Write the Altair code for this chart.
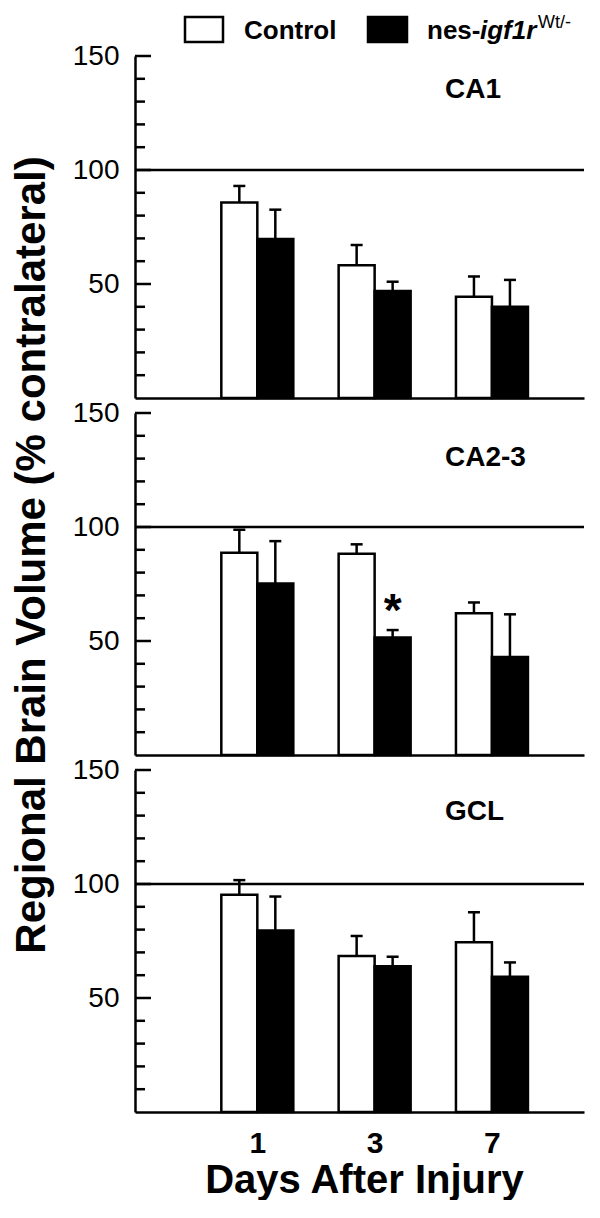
import altair as alt
import pandas as pd

# ---- data ----
regions = ["CA1", "CA2-3", "GCL"]
days = ["1", "3", "7"]
series = ["Control", "nes-igf1r"]
control_mean = [[85.7, 58.2, 44.4], [88.7, 88.3, 62.2], [95.3, 68.4, 74.4]]
control_sem = [[7.3, 8.9, 8.9], [10.1, 4.1, 4.7], [6.4, 8.8, 13.2]]
nes_mean = [[69.7, 46.9, 40.0], [75.2, 51.5, 43.0], [79.6, 63.9, 59.3]]
nes_sem = [[12.9, 4.1, 11.8], [18.6, 3.3, 18.7], [14.9, 4.2, 6.3]]
nes_significant = [[False, False, False], [False, True, False], [False, False, False]]
minor_ticks = [10, 20, 30, 40, 60, 70, 80, 90, 110, 120, 130, 140]
major_ticks = [50, 100, 150]
reference_level = [100]
y_title = "Regional Brain Volume (% contralateral)"
x_title = "Days After Injury"

FONT = "Liberation Sans"
LW = 2.5

rows = []
for ri, r in enumerate(regions):
    for di, d in enumerate(days):
        rows.append(dict(region=r, day=d, pos=di + 1, group=series[0],
                         mean=control_mean[ri][di], sem=control_sem[ri][di], sig=""))
        rows.append(dict(region=r, day=d, pos=di + 1, group=series[1],
                         mean=nes_mean[ri][di], sem=nes_sem[ri][di],
                         sig="*" if nes_significant[ri][di] else ""))
df = pd.DataFrame(rows)
df["upper"] = df["mean"] + df["sem"]

W, H = 449, 342
xscale = alt.Scale(domain=[0, 3.742], nice=False, zero=False)
yscale = alt.Scale(domain=[0, 150], nice=False)

label_expr = "[''," + ",".join("'%s'" % d for d in days) + "][datum.value]"

xaxis_plain = alt.Axis(labels=False, ticks=False, tickSize=0, grid=False, title=None,
                       domainWidth=LW, domainColor="black")
xaxis_full = alt.Axis(values=[1, 2, 3], labelExpr=label_expr, ticks=False, tickSize=0,
                      grid=False, domainWidth=LW, domainColor="black",
                      labelFontSize=30, labelFontWeight="bold", labelBaseline="alphabetic",
                      labelPadding=40, labelColor="black", labelFont=FONT,
                      title=x_title, titleFontSize=40, titleFontWeight="bold",
                      titleFont=FONT, titleColor="black", titleBaseline="alphabetic",
                      titleY=80, titleX=229, titleAlign="center")
yaxis = alt.Axis(values=major_ticks, ticks=False, tickSize=0, grid=False, title=None,
                 labelFontSize=28, labelPadding=16, labelColor="black", labelFont=FONT,
                 domainWidth=LW, domainColor="black")


def one_row(v=0):
    return pd.DataFrame({"a": [v]})


def panel(i, show_x, label_y, extra=None):
    d = df[df.region == regions[i]]
    dc = d[d.group == series[0]]
    dn = d[d.group == series[1]]
    X = alt.X("pos:Q", scale=xscale, axis=xaxis_full if show_x else xaxis_plain)

    def Y(f):
        return alt.Y(f, scale=yscale, axis=yaxis)

    layers = []
    layers.append(alt.Chart(pd.DataFrame({"v": minor_ticks})).mark_rule(
        strokeWidth=LW, color="black").encode(
        y=Y("v:Q"), x=alt.value(0), x2=alt.value(10)))
    layers.append(alt.Chart(pd.DataFrame({"v": major_ticks})).mark_rule(
        strokeWidth=LW, color="black").encode(
        y=Y("v:Q"), x=alt.value(0), x2=alt.value(16)))
    layers.append(alt.Chart(pd.DataFrame({"v": reference_level})).mark_rule(
        strokeWidth=LW, color="black").encode(y=Y("v:Q")))

    for sub, off, fill in [(dc, -18, "white"), (dn, 18, "black")]:
        base = alt.Chart(sub)
        layers.append(base.mark_rule(strokeWidth=LW, color="black", xOffset=off).encode(
            x=X, y=Y("mean:Q"), y2="upper:Q"))
        layers.append(base.mark_tick(orient="horizontal", size=12, thickness=LW,
                                     color="black", opacity=1, xOffset=off).encode(
            x=X, y=Y("upper:Q")))
        layers.append(base.mark_bar(orient="vertical", width=36, xOffset=off, fill=fill,
                                    stroke="black", strokeWidth=LW, opacity=1).encode(
            x=X, y=Y("mean:Q")))

    # significance marker
    layers.append(alt.Chart(dn[dn.sig != ""]).mark_text(
        font=FONT, fontSize=46, fontWeight="bold", dx=18, dy=-4,
        baseline="alphabetic", align="center", color="black").encode(
        x=X, y=Y("upper:Q"), text="sig:N"))

    # panel label
    layers.append(alt.Chart(pd.DataFrame({"t": [regions[i]]})).mark_text(
        font=FONT, fontSize=28, fontWeight="bold", align="left", baseline="middle",
        color="black").encode(text="t:N", x=alt.value(310), y=alt.value(label_y)))

    if extra:
        layers.extend(extra)
    return alt.layer(*layers).properties(width=W, height=H)


# legend drawn as text and boxes above the first panel
legend = [
    alt.Chart(one_row()).mark_rect(fill="white", stroke="black", strokeWidth=LW).encode(
        x=alt.value(50), x2=alt.value(88), y=alt.value(-39), y2=alt.value(-14)),
    alt.Chart(one_row()).mark_rect(fill="black", stroke="black", strokeWidth=LW).encode(
        x=alt.value(233), x2=alt.value(272), y=alt.value(-39), y2=alt.value(-14)),
    alt.Chart(pd.DataFrame({"t": [series[0]]})).mark_text(
        font=FONT, fontSize=26, fontWeight="bold", align="left", baseline="alphabetic",
        color="black").encode(text="t:N", x=alt.value(109), y=alt.value(-17)),
    alt.Chart(pd.DataFrame({"t": ["nes-"]})).mark_text(
        font=FONT, fontSize=26, fontWeight="bold", align="left", baseline="alphabetic",
        color="black").encode(text="t:N", x=alt.value(292), y=alt.value(-17)),
    alt.Chart(pd.DataFrame({"t": ["igf1r"]})).mark_text(
        font=FONT, fontSize=26, fontWeight="bold", fontStyle="italic", align="left",
        baseline="alphabetic", color="black").encode(
        text="t:N", x=alt.value(345), y=alt.value(-17)),
    alt.Chart(pd.DataFrame({"t": ["Wt/-"]})).mark_text(
        font=FONT, fontSize=18, align="left", baseline="alphabetic",
        color="black").encode(text="t:N", x=alt.value(403), y=alt.value(-28)),
]

ytitle_layer = [
    alt.Chart(pd.DataFrame({"t": [y_title]})).mark_text(
        font=FONT, fontSize=42, fontWeight="bold", angle=270, align="center",
        baseline="alphabetic", color="black").encode(
        text="t:N", x=alt.value(-90), y=alt.value(142)),
]

p1 = panel(0, False, 34, legend)
p2 = panel(1, False, 45, ytitle_layer)
p3 = panel(2, True, 42)

chart = alt.vconcat(p1, p2, p3, spacing=15, bounds="flush").properties(
    padding={"left": 2, "top": 6, "right": 0, "bottom": 0}
).configure_view(stroke=None).configure_axis(grid=False)

chart.save("out.html", embed_options={"renderer": "svg", "actions": False})
